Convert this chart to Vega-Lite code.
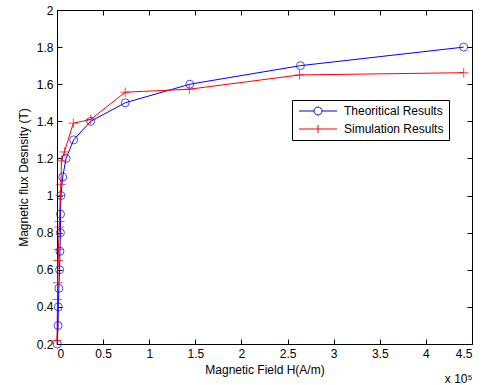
{
  "$schema": "https://vega.github.io/schema/vega-lite/v6.json",
  "width": 415,
  "height": 334,
  "autosize": {"type": "none"},
  "padding": {"left": 57, "top": 10, "right": 14, "bottom": 41},
  "background": "white",
  "config": {
    "font": "Liberation Sans",
    "view": {"stroke": "black", "strokeWidth": 1},
    "axis": {
      "grid": false,
      "labelColor": "black",
      "labelFont": "Liberation Sans",
      "labelFontSize": 12,
      "titleFont": "Liberation Sans",
      "titleFontSize": 12,
      "titleFontWeight": "normal",
      "titleColor": "black"
    }
  },
  "title": {
    "text": "x 10⁵",
    "orient": "bottom",
    "anchor": "end",
    "fontSize": 12,
    "fontWeight": "normal",
    "font": "Liberation Sans",
    "color": "black",
    "offset": -1
  },
  "data": {
    "values": [
      {"series": "Theoritical Results", "H": 300, "B": 0.2},
      {"series": "Theoritical Results", "H": 1200, "B": 0.3},
      {"series": "Theoritical Results", "H": 1400, "B": 0.4},
      {"series": "Theoritical Results", "H": 2000, "B": 0.5},
      {"series": "Theoritical Results", "H": 2800, "B": 0.6},
      {"series": "Theoritical Results", "H": 3200, "B": 0.7},
      {"series": "Theoritical Results", "H": 3700, "B": 0.8},
      {"series": "Theoritical Results", "H": 3800, "B": 0.9},
      {"series": "Theoritical Results", "H": 4300, "B": 1.0},
      {"series": "Theoritical Results", "H": 6200, "B": 1.1},
      {"series": "Theoritical Results", "H": 9800, "B": 1.2},
      {"series": "Theoritical Results", "H": 18000, "B": 1.3},
      {"series": "Theoritical Results", "H": 36500, "B": 1.4},
      {"series": "Theoritical Results", "H": 74000, "B": 1.5},
      {"series": "Theoritical Results", "H": 144000, "B": 1.6},
      {"series": "Theoritical Results", "H": 264000, "B": 1.7},
      {"series": "Theoritical Results", "H": 441000, "B": 1.8},
      {"series": "Simulation Results", "H": 0, "B": 0.22},
      {"series": "Simulation Results", "H": 500, "B": 0.44},
      {"series": "Simulation Results", "H": 800, "B": 0.53},
      {"series": "Simulation Results", "H": 1200, "B": 0.65},
      {"series": "Simulation Results", "H": 1500, "B": 0.71},
      {"series": "Simulation Results", "H": 2500, "B": 0.83},
      {"series": "Simulation Results", "H": 2800, "B": 0.86},
      {"series": "Simulation Results", "H": 3500, "B": 1.0},
      {"series": "Simulation Results", "H": 4300, "B": 1.06},
      {"series": "Simulation Results", "H": 4800, "B": 1.19},
      {"series": "Simulation Results", "H": 8000, "B": 1.235},
      {"series": "Simulation Results", "H": 17700, "B": 1.39},
      {"series": "Simulation Results", "H": 36500, "B": 1.41},
      {"series": "Simulation Results", "H": 74000, "B": 1.557},
      {"series": "Simulation Results", "H": 143500, "B": 1.573},
      {"series": "Simulation Results", "H": 263000, "B": 1.65},
      {"series": "Simulation Results", "H": 441000, "B": 1.662}
    ]
  },
  "layer": [
    {
      "mark": {"type": "line", "strokeWidth": 1},
      "encoding": {
        "x": {
          "field": "H", "type": "quantitative",
          "scale": {"domain": [0, 450000], "nice": false, "zero": false},
          "axis": {
            "orient": "bottom",
            "title": "Magnetic Field H(A/m)",
            "values": [0, 50000, 100000, 150000, 200000, 250000, 300000, 350000, 400000, 450000],
            "labelExpr": "format(datum.value / 100000, '~g')",
            "domain": false,
            "ticks": true,
            "offset": -5,
            "tickSize": 5,
            "tickColor": "black",
            "tickWidth": 1,
            "labelPadding": 4,
            "titlePadding": 5
          }
        },
        "y": {
          "field": "B", "type": "quantitative",
          "scale": {"domain": [0.2, 2], "nice": false, "zero": false},
          "axis": {
            "orient": "left",
            "title": "Magnetic flux Desnsity (T)",
            "values": [0.2, 0.4, 0.6, 0.8, 1, 1.2, 1.4, 1.6, 1.8, 2],
            "format": "~g",
            "domain": false,
            "ticks": true,
            "offset": -5,
            "tickSize": 5,
            "tickColor": "black",
            "tickWidth": 1,
            "labelPadding": 4,
            "titlePadding": 6
          }
        },
        "color": {
          "field": "series", "type": "nominal",
          "scale": {"domain": ["Theoritical Results", "Simulation Results"], "range": ["#0000FF", "#FF0000"]},
          "legend": {
            "title": null,
            "orient": "none",
            "legendX": 235,
            "legendY": 90,
            "strokeColor": "black",
            "fillColor": "white",
            "padding": 5,
            "symbolSize": 64,
            "symbolStrokeWidth": 1,
            "labelFontSize": 12,
            "labelFont": "Liberation Sans",
            "labelColor": "black",
            "labelOffset": 35,
            "rowPadding": 6,
            "encode": {
              "symbols": {
                "update": {
                  "shape": {"signal": "datum.value === 'Theoritical Results' ? 'M-1,0H2.75M4.75,0H8.5M4.75,0A1,1 0 1,0 2.75,0A1,1 0 1,0 4.75,0' : 'M-1,0H8.5M3.75,-1V1'"},
                  "fill": {"value": "transparent"}
                }
              }
            }
          }
        },
        "order": {"field": "B", "type": "quantitative"}
      }
    },
    {
      "transform": [{"filter": "datum.series === 'Theoritical Results'"}],
      "mark": {"type": "point", "filled": false, "strokeWidth": 1, "size": 64, "shape": "circle"},
      "encoding": {
        "x": {"field": "H", "type": "quantitative", "axis": null},
        "y": {"field": "B", "type": "quantitative", "axis": null},
        "color": {"field": "series", "type": "nominal"}
      }
    },
    {
      "transform": [{"filter": "datum.series === 'Simulation Results'"}],
      "mark": {"type": "point", "filled": false, "strokeWidth": 1, "size": 64, "shape": "M-1.2,0H1.2M0,-1.2V1.2"},
      "encoding": {
        "x": {"field": "H", "type": "quantitative", "axis": null},
        "y": {"field": "B", "type": "quantitative", "axis": null},
        "color": {"field": "series", "type": "nominal"}
      }
    },
    {
      "mark": {"type": "point", "opacity": 0},
      "encoding": {
        "x": {
          "field": "H", "type": "quantitative",
          "axis": {
            "orient": "top", "title": null, "labels": false,
            "values": [0, 50000, 100000, 150000, 200000, 250000, 300000, 350000, 400000, 450000],
            "domain": false,
            "ticks": true,
            "offset": -5,
            "tickSize": 5,
            "tickColor": "black",
            "tickWidth": 1
          }
        },
        "y": {
          "field": "B", "type": "quantitative",
          "axis": {
            "orient": "right", "title": null, "labels": false,
            "values": [0.2, 0.4, 0.6, 0.8, 1, 1.2, 1.4, 1.6, 1.8, 2],
            "domain": false,
            "ticks": true,
            "offset": -5,
            "tickSize": 5,
            "tickColor": "black",
            "tickWidth": 1
          }
        }
      }
    }
  ],
  "resolve": {"axis": {"x": "independent", "y": "independent"}}
}
